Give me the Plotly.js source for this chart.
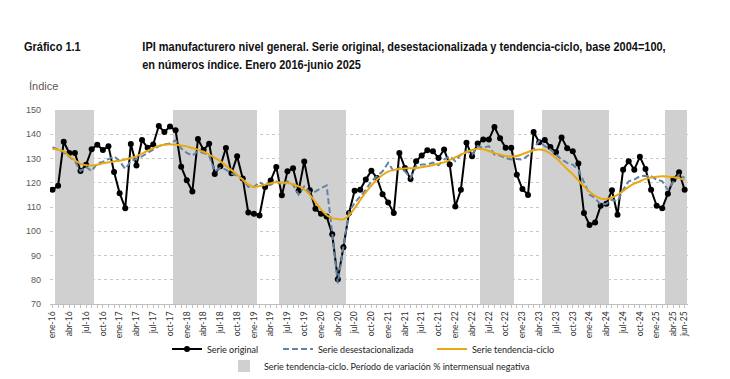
<!DOCTYPE html>
<html>
<head>
<meta charset="utf-8">
<script src="https://cdn.plot.ly/plotly-3.0.1.min.js"></script>
<style>html,body{margin:0;padding:0;background:#fff;}#chart{width:730px;height:379px;}</style>
</head>
<body>
<div id="chart"></div>
<script>
// Months: enero 2016 - junio 2025
const monthNames = ['ene','feb','mar','abr','may','jun','jul','ago','sep','oct','nov','dic'];
const startYear = 2016;
const nMonths = 114;

const serieOriginal = [
 117.1,118.8,136.9,132.3,132.3,124.8,127.4,133.8,135.7,133.5,135.1,124.4,
 115.7,109.5,136.0,127.1,137.6,134.4,135.8,143.4,140.9,143.2,141.6,126.6,
 121.0,116.4,138.0,133.5,136.1,123.6,126.8,134.3,123.9,130.9,121.8,107.7,
 107.2,106.5,118.2,120.9,126.5,114.8,124.7,126.0,116.7,128.8,116.9,109.3,
 107.2,106.1,98.8,80.2,93.4,107.5,116.7,117.1,121.3,125.0,122.0,115.3,
 111.9,107.5,132.3,126.1,121.5,128.9,131.2,133.4,133.0,130.2,133.7,127.5,
 110.2,117.1,136.5,130.9,136.2,137.8,137.8,143.0,138.3,134.4,134.4,123.3,
 117.4,115.0,140.9,136.7,137.6,134.7,132.6,138.7,134.2,133.0,127.9,107.5,
 102.6,103.6,110.5,111.3,116.9,106.8,125.4,128.9,125.4,130.7,125.7,117.1,
 110.5,109.5,115.5,121.3,124.3,117.1
];

const serieDesestacionalizada = [
 134.7,133.7,132.6,130.7,128.9,124.8,126.5,124.8,128.0,128.6,129.6,130.9,
 128.9,125.7,128.9,129.8,130.9,132.3,133.7,135.1,135.8,136.2,137.5,134.2,
 132.3,131.2,133.0,132.3,131.2,124.7,126.1,125.4,123.8,122.9,121.5,118.2,
 118.2,120.2,118.8,119.2,120.6,119.2,120.6,119.2,115.1,118.5,116.0,116.4,
 117.8,118.9,99.2,78.5,93.6,108.1,111.6,114.4,117.1,120.6,122.7,124.7,
 128.2,124.7,126.1,124.7,122.0,126.8,127.5,127.5,128.3,127.2,129.6,130.9,
 128.9,131.6,133.0,131.6,135.1,134.4,135.1,131.6,131.2,130.2,129.6,129.8,
 129.6,131.2,134.0,137.2,135.1,133.7,131.6,129.6,128.2,127.5,125.4,119.9,
 115.1,113.7,110.9,111.3,113.0,112.3,117.1,120.6,121.3,122.7,122.9,122.7,
 121.3,120.6,117.1,120.6,123.3,122.0
];

const serieTendencia = [
 134.0,133.6,133.0,131.0,129.3,127.8,127.2,127.1,127.4,128.0,128.4,128.8,
 129.1,129.6,130.2,130.9,132.0,133.2,134.3,135.2,135.7,135.9,135.7,135.4,
 135.0,134.3,133.6,132.8,131.6,130.3,128.9,127.0,125.2,123.3,121.2,119.3,
 118.2,118.6,119.2,119.8,120.2,120.1,119.9,119.4,118.5,117.2,115.0,112.0,
 109.0,106.6,105.4,105.0,104.9,106.5,109.5,112.8,116.0,118.8,121.3,123.2,
 124.6,125.3,125.7,125.9,126.0,126.1,126.4,126.8,127.3,127.8,128.4,129.4,
 130.5,131.6,132.6,133.5,134.0,133.8,133.1,132.3,131.6,131.0,130.8,131.0,
 131.8,132.7,133.4,133.7,133.3,132.0,130.2,128.0,125.6,123.5,121.0,118.5,
 116.3,114.6,113.5,113.3,113.9,115.0,116.6,118.3,119.6,120.6,121.6,122.2,
 122.5,122.65,122.5,122.3,121.9,121.0
];

// derived
const idx = Array.from({length: nMonths}, (_, i) => i);
const monthLabels = idx.map(i => monthNames[i % 12] + '-' + String((startYear + Math.floor(i / 12)) % 100).padStart(2, '0'));
const tickIdx = idx.filter(i => i % 3 === 0 || i === nMonths - 1);
const negativa = serieTendencia.map((v, i) => i > 0 && v < serieTendencia[i - 1]);

const Y_MIN = 70, Y_MAX = 150;

const traces = [
  {
    type: 'bar', x: idx, y: negativa.map(f => f ? (Y_MAX - Y_MIN) : null), base: Y_MIN,
    width: 1, marker: {color: '#d0d0d0', line: {width: 0}},
    name: 'Serie tendencia-ciclo. Período de variación % intermensual negativa',
    legend: 'legend4', hoverinfo: 'skip'
  },
  {
    type: 'scatter', mode: 'lines+markers', x: idx, y: serieOriginal,
    line: {color: '#000000', width: 2}, marker: {color: '#000000', size: 6},
    name: 'Serie original', legend: 'legend'
  },
  {
    type: 'scatter', mode: 'lines', x: idx, y: serieDesestacionalizada,
    line: {color: '#6283a5', width: 2, dash: '6px,3px'},
    name: 'Serie desestacionalizada', legend: 'legend2'
  },
  {
    type: 'scatter', mode: 'lines', x: idx, y: serieTendencia,
    line: {color: '#e8a913', width: 2, shape: 'spline', smoothing: 0.6},
    name: 'Serie tendencia-ciclo', legend: 'legend3'
  }
];

const W = 730, H = 379;
const PL = 50, PW = 638, PT = 110, PH = 194;
const px2x = px => (px - PL) / PW;
const px2y = py => (PT + PH - py) / PH;
const cx = px => px / W;
const cy = py => 1 - py / H;
const legFont = {family: 'Lato, Liberation Sans, sans-serif', size: 9, color: '#222'};
const titleFont = {family: 'Liberation Sans, Arial, sans-serif', size: 12.5, color: '#111', weight: 'bold'};

function leg(pxX, pxY) {
  return {orientation: 'h', xref: 'container', yref: 'container', x: cx(pxX), xanchor: 'left',
          y: cy(pxY), yanchor: 'middle', font: legFont, bgcolor: 'rgba(0,0,0,0)'};
}

const TITLE1 = 'IPI manufacturero nivel general. Serie original, desestacionalizada y tendencia-ciclo, base 2004=100,';
const TITLE2 = 'en números índice. Enero 2016-junio 2025';
const TITLE0 = 'Gráfico 1.1';

const layout = {
  width: W, height: H,
  margin: {l: PL, r: W - PL - PW, t: PT, b: H - PT - PH},
  paper_bgcolor: '#ffffff', plot_bgcolor: '#ffffff',
  showlegend: true,
  bargap: 0,
  xaxis: {
    range: [-0.45, 113.6], tickmode: 'array', tickvals: tickIdx, ticktext: tickIdx.map(i => monthLabels[i]),
    tickangle: -90, tickfont: {family: 'Lato, Liberation Sans, sans-serif', size: 8.5, color: '#333'},
    showgrid: false, zeroline: false, showline: true, linecolor: '#bfbfbf', linewidth: 1,
    ticks: 'outside', ticklen: 3, tickcolor: '#bfbfbf', automargin: false,
    minor: {tickmode: 'linear', tick0: 0, dtick: 1, ticks: 'outside', ticklen: 3, tickcolor: '#bfbfbf'},
    fixedrange: true
  },
  yaxis: {
    range: [Y_MIN, Y_MAX], dtick: 10, tick0: 70,
    tickfont: {family: 'Liberation Sans, Arial, sans-serif', size: 9, color: '#595959'},
    showgrid: true, gridcolor: '#c8c8c8', griddash: '3px,3px', gridwidth: 1,
    zeroline: false, showline: false, ticks: '', ticklabelstandoff: 8, automargin: false,
    fixedrange: true
  },
  legend:  leg(167, 349),
  legend2: leg(278, 349),
  legend3: leg(432, 349),
  legend4: leg(224, 366),
  annotations: [
    {text: TITLE0, xref: 'paper', yref: 'paper', x: px2x(22), y: px2y(47), xanchor: 'left', yanchor: 'middle', showarrow: false, font: titleFont},
    {text: TITLE1, xref: 'paper', yref: 'paper', x: px2x(140), y: px2y(47), xanchor: 'left', yanchor: 'middle', showarrow: false, font: titleFont},
    {text: TITLE2, xref: 'paper', yref: 'paper', x: px2x(140), y: px2y(65), xanchor: 'left', yanchor: 'middle', showarrow: false, font: titleFont},
    {text: 'Índice', xref: 'paper', yref: 'paper', x: px2x(27), y: px2y(86), xanchor: 'left', yanchor: 'middle', showarrow: false, font: {family: 'Liberation Sans, Arial, sans-serif', size: 11, color: '#595959'}}
  ]
};

// the reference title uses a condensed bold face: compress the title texts horizontally
const TITLE1_WIDTH = 524;
function condenseTitles(gd) {
  const els = Array.from(gd.querySelectorAll('.annotation-text'));
  const t1 = els.find(e => e.textContent === TITLE1);
  if (!t1) return;
  const s = Math.min(1, TITLE1_WIDTH / t1.getBBox().width);
  els.filter(e => [TITLE0, TITLE1, TITLE2].includes(e.textContent)).forEach(e => {
    const b = e.getBBox();
    const prev = e.getAttribute('transform') || '';
    e.setAttribute('transform', (prev + ' matrix(' + s + ',0,0,1,' + (b.x * (1 - s)) + ',0)').trim());
  });
}

Plotly.newPlot('chart', traces, layout, {staticPlot: true, displayModeBar: false}).then(condenseTitles);
</script>
</body>
</html>
